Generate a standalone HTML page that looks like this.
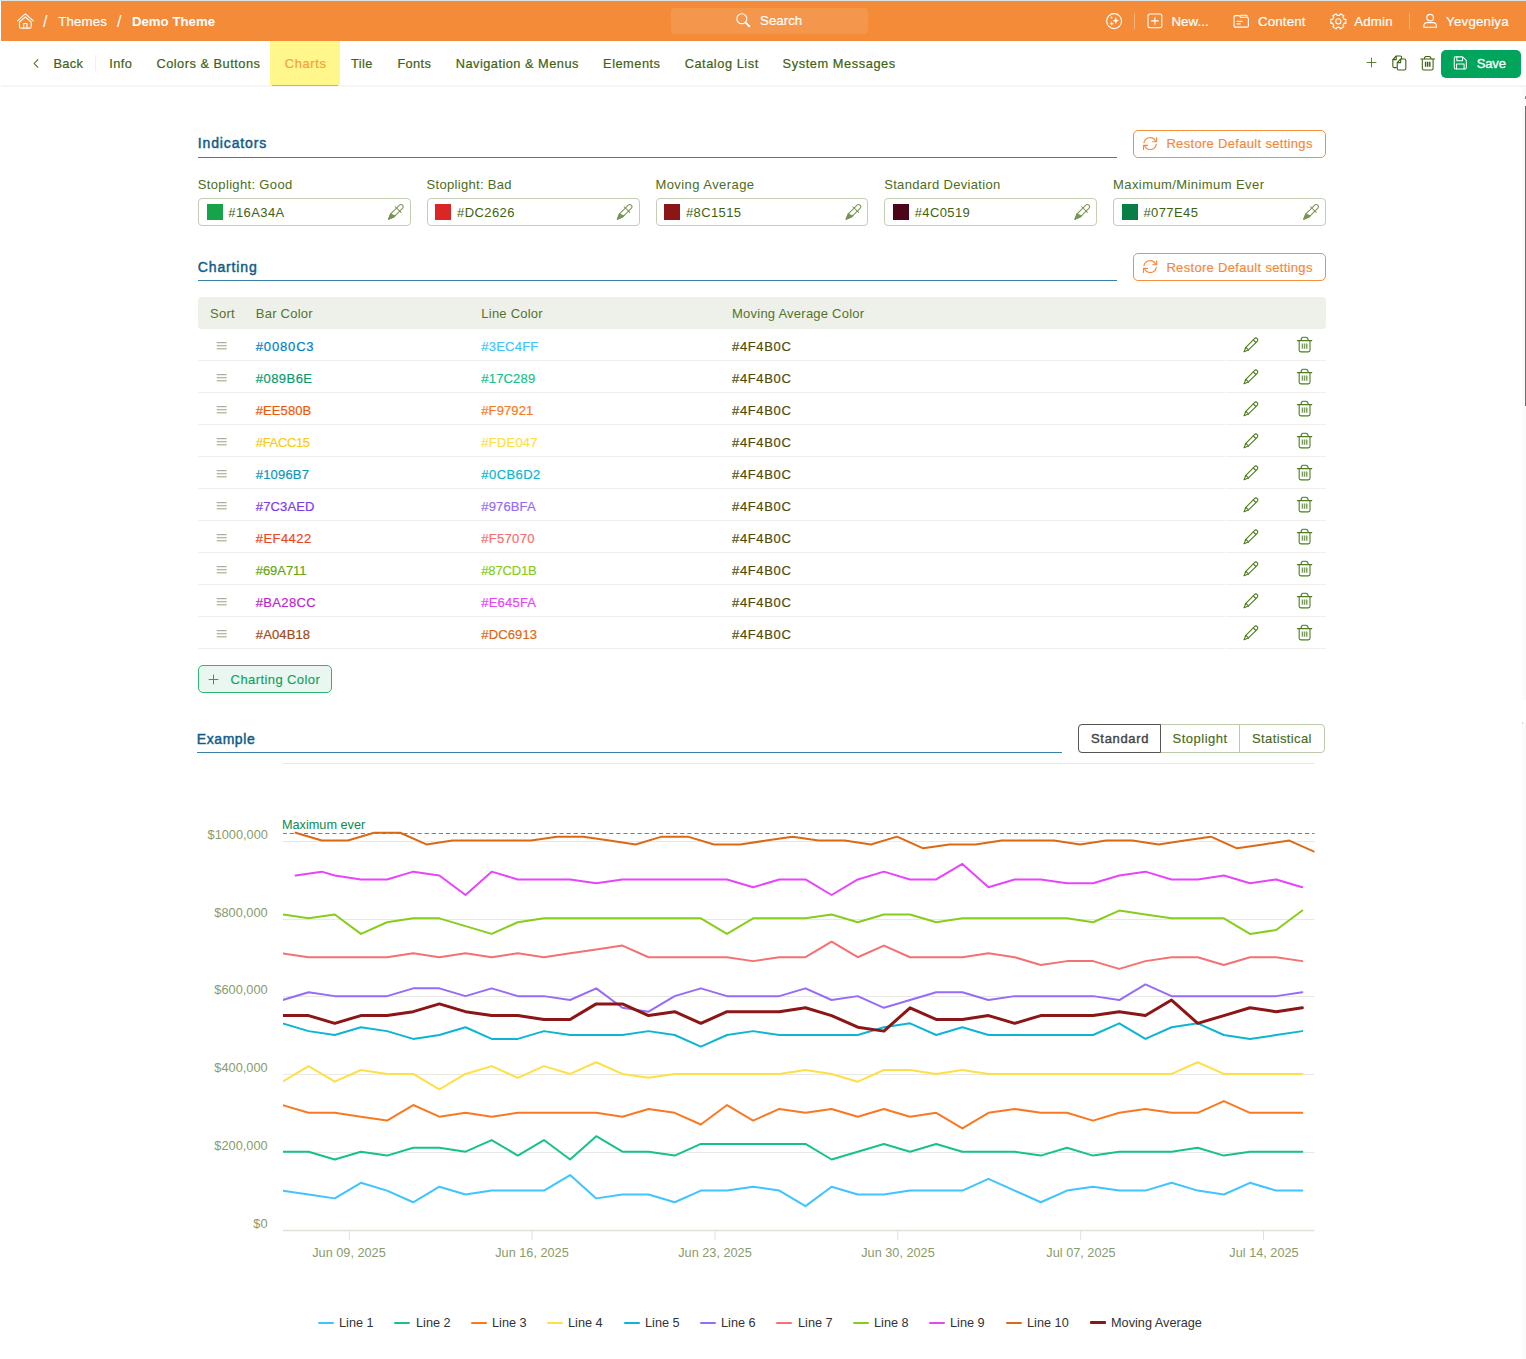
<!DOCTYPE html>
<html><head><meta charset="utf-8"><title>Demo Theme</title>
<style>
html,body{margin:0;padding:0;background:#fff;}
body{width:1526px;height:1359px;position:relative;overflow:hidden;font-family:"Liberation Sans",sans-serif;}
.t{position:absolute;white-space:nowrap;line-height:20px;}
.b{position:absolute;}
svg{overflow:visible;}
</style></head><body>
<div class="b" style="left:1.00px;top:0.00px;width:1525.00px;height:1.00px;background:#dde4e6"></div>
<div class="b" style="left:1.00px;top:1.00px;width:1525.00px;height:40.00px;background:#F38B38"></div>
<svg class="b" style="left:15.50px;top:11.90px;" width="18.70" height="18.70" viewBox="0 0 16 16" fill="none" stroke="#fff" stroke-width="0.95" stroke-linecap="round" stroke-linejoin="round"><path d="M1.2 7.6 L8 1.6 L14.8 7.6"/><path d="M3 8.6 L8 4.3 L13 8.6 V12.6 Q13 13.8 11.8 13.8 H4.2 Q3 13.8 3 12.6 Z"/><path d="M6.6 13.8 V9.8 H9.4 V13.8"/></svg>
<div class="t" style="left:42.90px;top:12.00px;font-size:16.00px;color:#fff;font-weight:400;letter-spacing:0.000px;">/</div>
<div class="t" style="left:58.30px;top:12.00px;font-size:13.30px;color:#fff;font-weight:400;letter-spacing:0.091px;-webkit-text-stroke:0.20px #fff;">Themes</div>
<div class="t" style="left:117.10px;top:12.00px;font-size:16.00px;color:#fff;font-weight:400;letter-spacing:0.000px;">/</div>
<div class="t" style="left:131.90px;top:12.00px;font-size:13.20px;color:#fff;font-weight:700;letter-spacing:0.043px;">Demo Theme</div>
<div class="b" style="left:671.00px;top:8.00px;width:196.50px;height:25.50px;background:rgba(255,255,255,0.10);border-radius:4px"></div>
<svg class="b" style="left:735.40px;top:12.40px;" width="16.00" height="16.00" viewBox="0 0 16 16" fill="none" stroke="#fff" stroke-width="1.1" stroke-linecap="round" stroke-linejoin="round"><circle cx="6.8" cy="6.8" r="5"/><path d="M10.6 10.6 L14.4 14.4" stroke-width="1.8"/></svg>
<div class="t" style="left:760.10px;top:11.00px;font-size:13.30px;color:#fff;font-weight:400;letter-spacing:-0.008px;-webkit-text-stroke:0.20px #fff;">Search</div>
<svg class="b" style="left:1106.20px;top:12.70px;" width="16.20" height="16.20" viewBox="0 0 16 16" fill="none" stroke="#fff" stroke-width="1.1" stroke-linecap="round" stroke-linejoin="round"><circle cx="8" cy="8" r="7.4"/><path d="M9.70 4.70 Q9.94 7.36 12.60 7.60 Q9.94 7.84 9.70 10.50 Q9.46 7.84 6.80 7.60 Q9.46 7.36 9.70 4.70 Z" fill="#fff" stroke="#fff" stroke-width="0.3"/><path d="M5.60 8.80 Q5.76 10.54 7.50 10.70 Q5.76 10.86 5.60 12.60 Q5.44 10.86 3.70 10.70 Q5.44 10.54 5.60 8.80 Z" fill="#fff" stroke="#fff" stroke-width="0.3"/><path d="M5.50 3.40 Q5.60 4.50 6.70 4.60 Q5.60 4.70 5.50 5.80 Q5.40 4.70 4.30 4.60 Q5.40 4.50 5.50 3.40 Z" fill="#fff" stroke="#fff" stroke-width="0.3"/></svg>
<div class="b" style="left:1134.20px;top:13.00px;width:1.00px;height:16.00px;background:rgba(255,255,255,0.35)"></div>
<svg class="b" style="left:1147.30px;top:12.80px;" width="15.80" height="15.80" viewBox="0 0 16 16" fill="none" stroke="#fff" stroke-width="1.1" stroke-linecap="round" stroke-linejoin="round"><rect x="1" y="1" width="14" height="14" rx="2"/><path d="M8 4.6 V11.4 M4.6 8 H11.4"/></svg>
<div class="t" style="left:1171.40px;top:12.00px;font-size:13.30px;color:#fff;font-weight:400;letter-spacing:0.089px;-webkit-text-stroke:0.20px #fff;">New...</div>
<svg class="b" style="left:1232.60px;top:12.80px;" width="16.40" height="16.40" viewBox="0 0 16 16" fill="none" stroke="#fff" stroke-width="1.1" stroke-linecap="round" stroke-linejoin="round"><path d="M1 4 Q1 2.6 2.4 2.6 H6 L7.6 4.2 H13.6 Q15 4.2 15 5.6 V12.4 Q15 13.8 13.6 13.8 H2.4 Q1 13.8 1 12.4 Z"/><path d="M7.4 2.2 H12.6 Q13.6 2.2 13.8 3.2"/><path d="M4 8 H9 M4 10.6 H7"/></svg>
<div class="t" style="left:1258.00px;top:12.00px;font-size:13.30px;color:#fff;font-weight:400;letter-spacing:0.137px;-webkit-text-stroke:0.20px #fff;">Content</div>
<svg class="b" style="left:1329.50px;top:12.60px;" width="16.70" height="16.70" viewBox="0 0 16 16" fill="none" stroke="#fff" stroke-width="1.1" stroke-linecap="round" stroke-linejoin="round"><circle cx="8" cy="8" r="2.5"/><path d="M15.24 6.06 L15.24 9.94 L13.64 9.72 L12.31 12.02 L13.30 13.30 L9.94 15.24 L9.33 13.75 L6.67 13.75 L6.06 15.24 L2.70 13.30 L3.69 12.02 L2.36 9.72 L0.76 9.94 L0.76 6.06 L2.36 6.28 L3.69 3.98 L2.70 2.70 L6.06 0.76 L6.67 2.25 L9.33 2.25 L9.94 0.76 L13.30 2.70 L12.31 3.98 L13.64 6.28 Z"/></svg>
<div class="t" style="left:1354.20px;top:12.00px;font-size:13.30px;color:#fff;font-weight:400;letter-spacing:0.199px;-webkit-text-stroke:0.20px #fff;">Admin</div>
<div class="b" style="left:1409.00px;top:13.00px;width:1.00px;height:16.00px;background:rgba(255,255,255,0.35)"></div>
<svg class="b" style="left:1422.70px;top:13.00px;" width="14.20" height="15.40" viewBox="0 0 16 16" fill="none" stroke="#fff" stroke-width="1.2" stroke-linecap="round" stroke-linejoin="round"><circle cx="8" cy="4.6" r="3.7"/><path d="M0.9 15.3 V14 Q0.9 10.2 4.6 10.2 H11.4 Q15.1 10.2 15.1 14 V15.3 Z"/></svg>
<div class="t" style="left:1446.10px;top:12.00px;font-size:13.30px;color:#fff;font-weight:400;letter-spacing:0.203px;-webkit-text-stroke:0.20px #fff;">Yevgeniya</div>
<div class="b" style="left:1.00px;top:85.00px;width:1525.00px;height:2.00px;background:#f6f6f4"></div>
<div class="b" style="left:270.30px;top:41.00px;width:69.50px;height:45.00px;background:#FFF68C"></div>
<div class="b" style="left:272.30px;top:84.50px;width:66.00px;height:1.50px;background:#F6A93B"></div>
<svg class="b" style="left:31.20px;top:57.70px;" width="11.00" height="11.00" viewBox="0 0 16 16" fill="none" stroke="#3f6212" stroke-width="1.5" stroke-linecap="round" stroke-linejoin="round"><path d="M10 2.5 L4.5 8 L10 13.5"/></svg>
<div class="t" style="left:53.50px;top:54.00px;font-size:12.80px;color:#3f6212;font-weight:400;letter-spacing:0.316px;-webkit-text-stroke:0.20px #3f6212;">Back</div>
<div class="b" style="left:95.30px;top:55.00px;width:1.00px;height:16.00px;background:#f1f1ec"></div>
<div class="t" style="left:109.30px;top:54.00px;font-size:12.80px;color:#3f6212;font-weight:400;letter-spacing:0.447px;-webkit-text-stroke:0.20px #3f6212;">Info</div>
<div class="t" style="left:156.40px;top:54.00px;font-size:12.80px;color:#3f6212;font-weight:400;letter-spacing:0.505px;-webkit-text-stroke:0.20px #3f6212;">Colors &amp; Buttons</div>
<div class="t" style="left:284.80px;top:54.00px;font-size:12.80px;color:#F6A13A;font-weight:400;letter-spacing:0.679px;-webkit-text-stroke:0.20px #F6A13A;">Charts</div>
<div class="t" style="left:351.00px;top:54.00px;font-size:12.80px;color:#3f6212;font-weight:400;letter-spacing:0.381px;-webkit-text-stroke:0.20px #3f6212;">Tile</div>
<div class="t" style="left:397.40px;top:54.00px;font-size:12.80px;color:#3f6212;font-weight:400;letter-spacing:0.346px;-webkit-text-stroke:0.20px #3f6212;">Fonts</div>
<div class="t" style="left:455.70px;top:54.00px;font-size:12.80px;color:#3f6212;font-weight:400;letter-spacing:0.481px;-webkit-text-stroke:0.20px #3f6212;">Navigation &amp; Menus</div>
<div class="t" style="left:603.10px;top:54.00px;font-size:12.80px;color:#3f6212;font-weight:400;letter-spacing:0.508px;-webkit-text-stroke:0.20px #3f6212;">Elements</div>
<div class="t" style="left:684.70px;top:54.00px;font-size:12.80px;color:#3f6212;font-weight:400;letter-spacing:0.538px;-webkit-text-stroke:0.20px #3f6212;">Catalog List</div>
<div class="t" style="left:782.60px;top:54.00px;font-size:12.80px;color:#3f6212;font-weight:400;letter-spacing:0.575px;-webkit-text-stroke:0.20px #3f6212;">System Messages</div>
<svg class="b" style="left:1365.50px;top:57.30px;" width="11.00" height="11.00" viewBox="0 0 16 16" fill="none" stroke="#4d7122" stroke-width="1.3" stroke-linecap="round" stroke-linejoin="round"><path d="M8 1.5 V14.5 M1.5 8 H14.5"/></svg>
<svg class="b" style="left:1391.40px;top:55.00px;" width="16.50" height="16.00" viewBox="0 0 16 16" fill="none" stroke="#3f6212" stroke-width="1.1" stroke-linecap="round" stroke-linejoin="round"><path d="M5.2 12.6 H3 Q1.6 12.6 1.6 11.2 V4.6 L5 1 H9 Q10.4 1 10.4 2.4 V3.6"/><path d="M1.8 4.6 H5 V1.4"/><path d="M6 7.6 L9.4 4 H13.2 Q14.6 4 14.6 5.4 V13.6 Q14.6 15 13.2 15 H7.4 Q6 15 6 13.6 Z"/><path d="M6.2 7.6 H9.4 V4.4"/></svg>
<svg class="b" style="left:1420.00px;top:55.00px;" width="15.40" height="16.40" viewBox="0 0 16 16" fill="none" stroke="#3f6212" stroke-width="1.1" stroke-linecap="round" stroke-linejoin="round"><path d="M0.8 3.6 H15.2"/><path d="M4.6 3.4 Q4.6 1 6.4 1 H9.6 Q11.4 1 11.4 3.4"/><path d="M2.4 3.8 V13.4 Q2.4 15 4 15 H12 Q13.6 15 13.6 13.4 V3.8"/><path d="M5.8 6.6 V11.6 M8 6.6 V11.6 M10.2 6.6 V11.6" stroke-width="1.5" stroke-linecap="butt"/></svg>
<div class="b" style="left:1441.00px;top:49.50px;width:80.00px;height:28.30px;background:#00A55B;border-radius:5px"></div>
<svg class="b" style="left:1453.00px;top:56.40px;" width="14.60" height="13.80" viewBox="0 0 16 16" fill="none" stroke="#fff" stroke-width="1.2" stroke-linecap="round" stroke-linejoin="round"><path d="M1 2.6 Q1 1 2.6 1 H10.6 L15 5 V13.4 Q15 15 13.4 15 H2.6 Q1 15 1 13.4 Z"/><path d="M4 1.2 V5.6 H10.6 V1.4"/><path d="M3.6 15 V9.4 H12.4 V15"/></svg>
<div class="t" style="left:1476.70px;top:54.00px;font-size:13.00px;color:#fff;font-weight:400;letter-spacing:-0.114px;-webkit-text-stroke:0.30px #fff;">Save</div>
<div class="t" style="left:197.80px;top:133.00px;font-size:14.00px;color:#0f5c88;font-weight:400;letter-spacing:0.855px;-webkit-text-stroke:0.45px #0f5c88;">Indicators</div>
<div class="b" style="left:197.50px;top:156.80px;width:919.50px;height:1.30px;background:#3b80a6"></div>
<div class="b" style="left:1133.00px;top:130.00px;width:193.00px;height:27.50px;border:1px solid #F5903F;border-radius:5px;box-sizing:border-box"></div>
<svg class="b" style="left:1142.00px;top:137.00px;" width="16.20" height="13.20" viewBox="0 0 16 13" fill="none" stroke="#F5873A" stroke-width="1.1" stroke-linecap="round" stroke-linejoin="round"><path d="M1.9 5.7 A6.1 6.1 0 0 1 13.5 4.3"/><path d="M14.5 0.7 V4.7 H10.5"/><path d="M14.1 7.3 A6.1 6.1 0 0 1 2.5 8.7"/><path d="M1.5 12.3 V8.3 H5.5"/></svg>
<div class="t" style="left:1166.40px;top:134.00px;font-size:13.00px;color:#F5873A;font-weight:400;letter-spacing:0.316px;-webkit-text-stroke:0.15px #F5873A;">Restore Default settings</div>
<div class="t" style="left:197.80px;top:175.00px;font-size:13.00px;color:#4d6c22;font-weight:400;letter-spacing:0.341px;">Stoplight: Good</div>
<div class="b" style="left:198.00px;top:198.00px;width:212.80px;height:28.00px;border:1px solid #c3ceb3;border-radius:4px;box-sizing:border-box;background:#fff"></div>
<div class="b" style="left:206.50px;top:204.00px;width:16.00px;height:16.00px;background:#16A34A"></div>
<div class="t" style="left:228.30px;top:203.00px;font-size:13.00px;color:#3f6212;font-weight:400;letter-spacing:0.401px;">#16A34A</div>
<svg class="b" style="left:0;top:0;color:#7a9455" width="1" height="1" fill="none" stroke="#7a9455" stroke-width="1.0" stroke-linecap="round" stroke-linejoin="round"><g transform="translate(402.50 205.20) rotate(45)"><path d="M-2.2 6.2 V2.2 A2.2 2.2 0 0 1 2.2 2.2 V6.2"/><path d="M-4 6.2 H4"/><path d="M-2.2 6.2 V14.6 L0 19.8 L2.2 14.6 V6.2"/><path d="M-2.2 14.2 Q0.4 14.4 2.2 12.2 V14.6 L0 19.8 L-2.2 14.6 Z" fill="currentColor"/></g></svg>
<div class="t" style="left:426.60px;top:175.00px;font-size:13.00px;color:#4d6c22;font-weight:400;letter-spacing:0.311px;">Stoplight: Bad</div>
<div class="b" style="left:426.80px;top:198.00px;width:212.80px;height:28.00px;border:1px solid #c3ceb3;border-radius:4px;box-sizing:border-box;background:#fff"></div>
<div class="b" style="left:435.30px;top:204.00px;width:16.00px;height:16.00px;background:#DC2626"></div>
<div class="t" style="left:457.10px;top:203.00px;font-size:13.00px;color:#3f6212;font-weight:400;letter-spacing:0.412px;">#DC2626</div>
<svg class="b" style="left:0;top:0;color:#7a9455" width="1" height="1" fill="none" stroke="#7a9455" stroke-width="1.0" stroke-linecap="round" stroke-linejoin="round"><g transform="translate(631.30 205.20) rotate(45)"><path d="M-2.2 6.2 V2.2 A2.2 2.2 0 0 1 2.2 2.2 V6.2"/><path d="M-4 6.2 H4"/><path d="M-2.2 6.2 V14.6 L0 19.8 L2.2 14.6 V6.2"/><path d="M-2.2 14.2 Q0.4 14.4 2.2 12.2 V14.6 L0 19.8 L-2.2 14.6 Z" fill="currentColor"/></g></svg>
<div class="t" style="left:655.40px;top:175.00px;font-size:13.00px;color:#4d6c22;font-weight:400;letter-spacing:0.438px;">Moving Average</div>
<div class="b" style="left:655.60px;top:198.00px;width:212.80px;height:28.00px;border:1px solid #c3ceb3;border-radius:4px;box-sizing:border-box;background:#fff"></div>
<div class="b" style="left:664.10px;top:204.00px;width:16.00px;height:16.00px;background:#8C1515"></div>
<div class="t" style="left:685.90px;top:203.00px;font-size:13.00px;color:#3f6212;font-weight:400;letter-spacing:0.396px;">#8C1515</div>
<svg class="b" style="left:0;top:0;color:#7a9455" width="1" height="1" fill="none" stroke="#7a9455" stroke-width="1.0" stroke-linecap="round" stroke-linejoin="round"><g transform="translate(860.10 205.20) rotate(45)"><path d="M-2.2 6.2 V2.2 A2.2 2.2 0 0 1 2.2 2.2 V6.2"/><path d="M-4 6.2 H4"/><path d="M-2.2 6.2 V14.6 L0 19.8 L2.2 14.6 V6.2"/><path d="M-2.2 14.2 Q0.4 14.4 2.2 12.2 V14.6 L0 19.8 L-2.2 14.6 Z" fill="currentColor"/></g></svg>
<div class="t" style="left:884.20px;top:175.00px;font-size:13.00px;color:#4d6c22;font-weight:400;letter-spacing:0.319px;">Standard Deviation</div>
<div class="b" style="left:884.40px;top:198.00px;width:212.80px;height:28.00px;border:1px solid #c3ceb3;border-radius:4px;box-sizing:border-box;background:#fff"></div>
<div class="b" style="left:892.90px;top:204.00px;width:16.00px;height:16.00px;background:#4C0519"></div>
<div class="t" style="left:914.70px;top:203.00px;font-size:13.00px;color:#3f6212;font-weight:400;letter-spacing:0.396px;">#4C0519</div>
<svg class="b" style="left:0;top:0;color:#7a9455" width="1" height="1" fill="none" stroke="#7a9455" stroke-width="1.0" stroke-linecap="round" stroke-linejoin="round"><g transform="translate(1088.90 205.20) rotate(45)"><path d="M-2.2 6.2 V2.2 A2.2 2.2 0 0 1 2.2 2.2 V6.2"/><path d="M-4 6.2 H4"/><path d="M-2.2 6.2 V14.6 L0 19.8 L2.2 14.6 V6.2"/><path d="M-2.2 14.2 Q0.4 14.4 2.2 12.2 V14.6 L0 19.8 L-2.2 14.6 Z" fill="currentColor"/></g></svg>
<div class="t" style="left:1113.00px;top:175.00px;font-size:13.00px;color:#4d6c22;font-weight:400;letter-spacing:0.420px;">Maximum/Minimum Ever</div>
<div class="b" style="left:1113.20px;top:198.00px;width:212.80px;height:28.00px;border:1px solid #c3ceb3;border-radius:4px;box-sizing:border-box;background:#fff"></div>
<div class="b" style="left:1121.70px;top:204.00px;width:16.00px;height:16.00px;background:#077E45"></div>
<div class="t" style="left:1143.50px;top:203.00px;font-size:13.00px;color:#3f6212;font-weight:400;letter-spacing:0.390px;">#077E45</div>
<svg class="b" style="left:0;top:0;color:#7a9455" width="1" height="1" fill="none" stroke="#7a9455" stroke-width="1.0" stroke-linecap="round" stroke-linejoin="round"><g transform="translate(1317.70 205.20) rotate(45)"><path d="M-2.2 6.2 V2.2 A2.2 2.2 0 0 1 2.2 2.2 V6.2"/><path d="M-4 6.2 H4"/><path d="M-2.2 6.2 V14.6 L0 19.8 L2.2 14.6 V6.2"/><path d="M-2.2 14.2 Q0.4 14.4 2.2 12.2 V14.6 L0 19.8 L-2.2 14.6 Z" fill="currentColor"/></g></svg>
<div class="t" style="left:197.80px;top:257.00px;font-size:14.00px;color:#0f5c88;font-weight:400;letter-spacing:0.854px;-webkit-text-stroke:0.45px #0f5c88;">Charting</div>
<div class="b" style="left:197.50px;top:279.90px;width:919.50px;height:1.30px;background:#3b80a6"></div>
<div class="b" style="left:1133.00px;top:253.30px;width:193.00px;height:27.50px;border:1px solid #F5903F;border-radius:5px;box-sizing:border-box"></div>
<svg class="b" style="left:1142.00px;top:260.30px;" width="16.20" height="13.20" viewBox="0 0 16 13" fill="none" stroke="#F5873A" stroke-width="1.1" stroke-linecap="round" stroke-linejoin="round"><path d="M1.9 5.7 A6.1 6.1 0 0 1 13.5 4.3"/><path d="M14.5 0.7 V4.7 H10.5"/><path d="M14.1 7.3 A6.1 6.1 0 0 1 2.5 8.7"/><path d="M1.5 12.3 V8.3 H5.5"/></svg>
<div class="t" style="left:1166.40px;top:258.00px;font-size:13.00px;color:#F5873A;font-weight:400;letter-spacing:0.316px;-webkit-text-stroke:0.15px #F5873A;">Restore Default settings</div>
<div class="b" style="left:198.00px;top:297.00px;width:1128.00px;height:31.50px;background:#eef1e9;border-radius:4px"></div>
<div class="t" style="left:210.00px;top:304.00px;font-size:13.00px;color:#55732a;font-weight:400;letter-spacing:0.278px;">Sort</div>
<div class="t" style="left:255.80px;top:304.00px;font-size:13.00px;color:#55732a;font-weight:400;letter-spacing:0.240px;">Bar Color</div>
<div class="t" style="left:481.30px;top:304.00px;font-size:13.00px;color:#55732a;font-weight:400;letter-spacing:0.230px;">Line Color</div>
<div class="t" style="left:732.00px;top:304.00px;font-size:13.00px;color:#55732a;font-weight:400;letter-spacing:0.235px;">Moving Average Color</div>
<svg class="b" style="left:216.00px;top:339.90px;" width="11.50" height="11.50" viewBox="0 0 14 15" fill="none" stroke="#8b9b73" stroke-width="1.2" stroke-linecap="round" stroke-linejoin="round"><path d="M1 3.5 H13 M1 7.5 H13 M1 11.5 H13"/></svg>
<div class="t" style="left:255.80px;top:337.00px;font-size:13.00px;color:#0080C3;font-weight:400;letter-spacing:0.836px;-webkit-text-stroke:0.20px #0080C3;">#0080C3</div>
<div class="t" style="left:481.30px;top:337.00px;font-size:13.00px;color:#3EC4FF;font-weight:400;letter-spacing:0.227px;-webkit-text-stroke:0.20px #3EC4FF;">#3EC4FF</div>
<div class="t" style="left:732.00px;top:337.00px;font-size:13.00px;color:#4F4B0C;font-weight:400;letter-spacing:0.646px;-webkit-text-stroke:0.20px #4F4B0C;">#4F4B0C</div>
<svg class="b" style="left:0;top:0;color:#4d7c1f" width="1" height="1" fill="none" stroke="#4d7c1f" stroke-width="1.1" stroke-linecap="round" stroke-linejoin="round"><g transform="translate(1257.20 338.60) rotate(45)"><path d="M-1.9 14.2 V1.9 A1.9 1.9 0 0 1 1.9 1.9 V14.2 L0 18.6 Z"/><path d="M-1.9 3.6 H1.9"/><path d="M-1.9 14.2 H1.9"/></g></svg>
<svg class="b" style="left:1296.60px;top:336.30px;" width="15.20" height="17.00" viewBox="0 0 16 17" fill="none" stroke="#4d7c1f" stroke-width="1.15" stroke-linecap="round" stroke-linejoin="round"><path d="M0.4 4.4 H15.6"/><path d="M4.2 4.2 Q4.4 0.8 6.4 0.8 H9.6 Q11.6 0.8 11.8 4.2"/><path d="M2.3 4.6 V14.6 Q2.3 16.3 4 16.3 H12 Q13.7 16.3 13.7 14.6 V4.6"/><path d="M5.7 7.4 V13 M8 7.4 V13 M10.3 7.4 V13" stroke-width="1.5" stroke-linecap="butt" opacity="0.75"/></svg>
<div class="b" style="left:198.00px;top:360.20px;width:1027.00px;height:1.00px;background:#eff0eb"></div>
<div class="b" style="left:1226.00px;top:360.20px;width:100.00px;height:1.00px;background:#eff0eb"></div>
<svg class="b" style="left:216.00px;top:371.90px;" width="11.50" height="11.50" viewBox="0 0 14 15" fill="none" stroke="#8b9b73" stroke-width="1.2" stroke-linecap="round" stroke-linejoin="round"><path d="M1 3.5 H13 M1 7.5 H13 M1 11.5 H13"/></svg>
<div class="t" style="left:255.80px;top:369.00px;font-size:13.00px;color:#089B6E;font-weight:400;letter-spacing:0.450px;-webkit-text-stroke:0.20px #089B6E;">#089B6E</div>
<div class="t" style="left:481.30px;top:369.00px;font-size:13.00px;color:#17C289;font-weight:400;letter-spacing:0.186px;-webkit-text-stroke:0.20px #17C289;">#17C289</div>
<div class="t" style="left:732.00px;top:369.00px;font-size:13.00px;color:#4F4B0C;font-weight:400;letter-spacing:0.646px;-webkit-text-stroke:0.20px #4F4B0C;">#4F4B0C</div>
<svg class="b" style="left:0;top:0;color:#4d7c1f" width="1" height="1" fill="none" stroke="#4d7c1f" stroke-width="1.1" stroke-linecap="round" stroke-linejoin="round"><g transform="translate(1257.20 370.60) rotate(45)"><path d="M-1.9 14.2 V1.9 A1.9 1.9 0 0 1 1.9 1.9 V14.2 L0 18.6 Z"/><path d="M-1.9 3.6 H1.9"/><path d="M-1.9 14.2 H1.9"/></g></svg>
<svg class="b" style="left:1296.60px;top:368.30px;" width="15.20" height="17.00" viewBox="0 0 16 17" fill="none" stroke="#4d7c1f" stroke-width="1.15" stroke-linecap="round" stroke-linejoin="round"><path d="M0.4 4.4 H15.6"/><path d="M4.2 4.2 Q4.4 0.8 6.4 0.8 H9.6 Q11.6 0.8 11.8 4.2"/><path d="M2.3 4.6 V14.6 Q2.3 16.3 4 16.3 H12 Q13.7 16.3 13.7 14.6 V4.6"/><path d="M5.7 7.4 V13 M8 7.4 V13 M10.3 7.4 V13" stroke-width="1.5" stroke-linecap="butt" opacity="0.75"/></svg>
<div class="b" style="left:198.00px;top:392.20px;width:1027.00px;height:1.00px;background:#eff0eb"></div>
<div class="b" style="left:1226.00px;top:392.20px;width:100.00px;height:1.00px;background:#eff0eb"></div>
<svg class="b" style="left:216.00px;top:403.90px;" width="11.50" height="11.50" viewBox="0 0 14 15" fill="none" stroke="#8b9b73" stroke-width="1.2" stroke-linecap="round" stroke-linejoin="round"><path d="M1 3.5 H13 M1 7.5 H13 M1 11.5 H13"/></svg>
<div class="t" style="left:255.80px;top:401.00px;font-size:13.00px;color:#EE580B;font-weight:400;letter-spacing:0.077px;-webkit-text-stroke:0.20px #EE580B;">#EE580B</div>
<div class="t" style="left:481.30px;top:401.00px;font-size:13.00px;color:#F97921;font-weight:400;letter-spacing:0.095px;-webkit-text-stroke:0.20px #F97921;">#F97921</div>
<div class="t" style="left:732.00px;top:401.00px;font-size:13.00px;color:#4F4B0C;font-weight:400;letter-spacing:0.646px;-webkit-text-stroke:0.20px #4F4B0C;">#4F4B0C</div>
<svg class="b" style="left:0;top:0;color:#4d7c1f" width="1" height="1" fill="none" stroke="#4d7c1f" stroke-width="1.1" stroke-linecap="round" stroke-linejoin="round"><g transform="translate(1257.20 402.60) rotate(45)"><path d="M-1.9 14.2 V1.9 A1.9 1.9 0 0 1 1.9 1.9 V14.2 L0 18.6 Z"/><path d="M-1.9 3.6 H1.9"/><path d="M-1.9 14.2 H1.9"/></g></svg>
<svg class="b" style="left:1296.60px;top:400.30px;" width="15.20" height="17.00" viewBox="0 0 16 17" fill="none" stroke="#4d7c1f" stroke-width="1.15" stroke-linecap="round" stroke-linejoin="round"><path d="M0.4 4.4 H15.6"/><path d="M4.2 4.2 Q4.4 0.8 6.4 0.8 H9.6 Q11.6 0.8 11.8 4.2"/><path d="M2.3 4.6 V14.6 Q2.3 16.3 4 16.3 H12 Q13.7 16.3 13.7 14.6 V4.6"/><path d="M5.7 7.4 V13 M8 7.4 V13 M10.3 7.4 V13" stroke-width="1.5" stroke-linecap="butt" opacity="0.75"/></svg>
<div class="b" style="left:198.00px;top:424.20px;width:1027.00px;height:1.00px;background:#eff0eb"></div>
<div class="b" style="left:1226.00px;top:424.20px;width:100.00px;height:1.00px;background:#eff0eb"></div>
<svg class="b" style="left:216.00px;top:435.90px;" width="11.50" height="11.50" viewBox="0 0 14 15" fill="none" stroke="#8b9b73" stroke-width="1.2" stroke-linecap="round" stroke-linejoin="round"><path d="M1 3.5 H13 M1 7.5 H13 M1 11.5 H13"/></svg>
<div class="t" style="left:255.80px;top:433.00px;font-size:13.00px;color:#FACC15;font-weight:400;letter-spacing:-0.346px;-webkit-text-stroke:0.20px #FACC15;">#FACC15</div>
<div class="t" style="left:481.30px;top:433.00px;font-size:13.00px;color:#FDE047;font-weight:400;letter-spacing:0.213px;-webkit-text-stroke:0.20px #FDE047;">#FDE047</div>
<div class="t" style="left:732.00px;top:433.00px;font-size:13.00px;color:#4F4B0C;font-weight:400;letter-spacing:0.646px;-webkit-text-stroke:0.20px #4F4B0C;">#4F4B0C</div>
<svg class="b" style="left:0;top:0;color:#4d7c1f" width="1" height="1" fill="none" stroke="#4d7c1f" stroke-width="1.1" stroke-linecap="round" stroke-linejoin="round"><g transform="translate(1257.20 434.60) rotate(45)"><path d="M-1.9 14.2 V1.9 A1.9 1.9 0 0 1 1.9 1.9 V14.2 L0 18.6 Z"/><path d="M-1.9 3.6 H1.9"/><path d="M-1.9 14.2 H1.9"/></g></svg>
<svg class="b" style="left:1296.60px;top:432.30px;" width="15.20" height="17.00" viewBox="0 0 16 17" fill="none" stroke="#4d7c1f" stroke-width="1.15" stroke-linecap="round" stroke-linejoin="round"><path d="M0.4 4.4 H15.6"/><path d="M4.2 4.2 Q4.4 0.8 6.4 0.8 H9.6 Q11.6 0.8 11.8 4.2"/><path d="M2.3 4.6 V14.6 Q2.3 16.3 4 16.3 H12 Q13.7 16.3 13.7 14.6 V4.6"/><path d="M5.7 7.4 V13 M8 7.4 V13 M10.3 7.4 V13" stroke-width="1.5" stroke-linecap="butt" opacity="0.75"/></svg>
<div class="b" style="left:198.00px;top:456.20px;width:1027.00px;height:1.00px;background:#eff0eb"></div>
<div class="b" style="left:1226.00px;top:456.20px;width:100.00px;height:1.00px;background:#eff0eb"></div>
<svg class="b" style="left:216.00px;top:467.90px;" width="11.50" height="11.50" viewBox="0 0 14 15" fill="none" stroke="#8b9b73" stroke-width="1.2" stroke-linecap="round" stroke-linejoin="round"><path d="M1 3.5 H13 M1 7.5 H13 M1 11.5 H13"/></svg>
<div class="t" style="left:255.80px;top:465.00px;font-size:13.00px;color:#1096B7;font-weight:400;letter-spacing:0.173px;-webkit-text-stroke:0.20px #1096B7;">#1096B7</div>
<div class="t" style="left:481.30px;top:465.00px;font-size:13.00px;color:#0CB6D2;font-weight:400;letter-spacing:0.438px;-webkit-text-stroke:0.20px #0CB6D2;">#0CB6D2</div>
<div class="t" style="left:732.00px;top:465.00px;font-size:13.00px;color:#4F4B0C;font-weight:400;letter-spacing:0.646px;-webkit-text-stroke:0.20px #4F4B0C;">#4F4B0C</div>
<svg class="b" style="left:0;top:0;color:#4d7c1f" width="1" height="1" fill="none" stroke="#4d7c1f" stroke-width="1.1" stroke-linecap="round" stroke-linejoin="round"><g transform="translate(1257.20 466.60) rotate(45)"><path d="M-1.9 14.2 V1.9 A1.9 1.9 0 0 1 1.9 1.9 V14.2 L0 18.6 Z"/><path d="M-1.9 3.6 H1.9"/><path d="M-1.9 14.2 H1.9"/></g></svg>
<svg class="b" style="left:1296.60px;top:464.30px;" width="15.20" height="17.00" viewBox="0 0 16 17" fill="none" stroke="#4d7c1f" stroke-width="1.15" stroke-linecap="round" stroke-linejoin="round"><path d="M0.4 4.4 H15.6"/><path d="M4.2 4.2 Q4.4 0.8 6.4 0.8 H9.6 Q11.6 0.8 11.8 4.2"/><path d="M2.3 4.6 V14.6 Q2.3 16.3 4 16.3 H12 Q13.7 16.3 13.7 14.6 V4.6"/><path d="M5.7 7.4 V13 M8 7.4 V13 M10.3 7.4 V13" stroke-width="1.5" stroke-linecap="butt" opacity="0.75"/></svg>
<div class="b" style="left:198.00px;top:488.20px;width:1027.00px;height:1.00px;background:#eff0eb"></div>
<div class="b" style="left:1226.00px;top:488.20px;width:100.00px;height:1.00px;background:#eff0eb"></div>
<svg class="b" style="left:216.00px;top:499.90px;" width="11.50" height="11.50" viewBox="0 0 14 15" fill="none" stroke="#8b9b73" stroke-width="1.2" stroke-linecap="round" stroke-linejoin="round"><path d="M1 3.5 H13 M1 7.5 H13 M1 11.5 H13"/></svg>
<div class="t" style="left:255.80px;top:497.00px;font-size:13.00px;color:#7C3AED;font-weight:400;letter-spacing:0.131px;-webkit-text-stroke:0.20px #7C3AED;">#7C3AED</div>
<div class="t" style="left:481.30px;top:497.00px;font-size:13.00px;color:#976BFA;font-weight:400;letter-spacing:0.133px;-webkit-text-stroke:0.20px #976BFA;">#976BFA</div>
<div class="t" style="left:732.00px;top:497.00px;font-size:13.00px;color:#4F4B0C;font-weight:400;letter-spacing:0.646px;-webkit-text-stroke:0.20px #4F4B0C;">#4F4B0C</div>
<svg class="b" style="left:0;top:0;color:#4d7c1f" width="1" height="1" fill="none" stroke="#4d7c1f" stroke-width="1.1" stroke-linecap="round" stroke-linejoin="round"><g transform="translate(1257.20 498.60) rotate(45)"><path d="M-1.9 14.2 V1.9 A1.9 1.9 0 0 1 1.9 1.9 V14.2 L0 18.6 Z"/><path d="M-1.9 3.6 H1.9"/><path d="M-1.9 14.2 H1.9"/></g></svg>
<svg class="b" style="left:1296.60px;top:496.30px;" width="15.20" height="17.00" viewBox="0 0 16 17" fill="none" stroke="#4d7c1f" stroke-width="1.15" stroke-linecap="round" stroke-linejoin="round"><path d="M0.4 4.4 H15.6"/><path d="M4.2 4.2 Q4.4 0.8 6.4 0.8 H9.6 Q11.6 0.8 11.8 4.2"/><path d="M2.3 4.6 V14.6 Q2.3 16.3 4 16.3 H12 Q13.7 16.3 13.7 14.6 V4.6"/><path d="M5.7 7.4 V13 M8 7.4 V13 M10.3 7.4 V13" stroke-width="1.5" stroke-linecap="butt" opacity="0.75"/></svg>
<div class="b" style="left:198.00px;top:520.20px;width:1027.00px;height:1.00px;background:#eff0eb"></div>
<div class="b" style="left:1226.00px;top:520.20px;width:100.00px;height:1.00px;background:#eff0eb"></div>
<svg class="b" style="left:216.00px;top:531.90px;" width="11.50" height="11.50" viewBox="0 0 14 15" fill="none" stroke="#8b9b73" stroke-width="1.2" stroke-linecap="round" stroke-linejoin="round"><path d="M1 3.5 H13 M1 7.5 H13 M1 11.5 H13"/></svg>
<div class="t" style="left:255.80px;top:529.00px;font-size:13.00px;color:#EF4422;font-weight:400;letter-spacing:0.439px;-webkit-text-stroke:0.20px #EF4422;">#EF4422</div>
<div class="t" style="left:481.30px;top:529.00px;font-size:13.00px;color:#F57070;font-weight:400;letter-spacing:0.295px;-webkit-text-stroke:0.20px #F57070;">#F57070</div>
<div class="t" style="left:732.00px;top:529.00px;font-size:13.00px;color:#4F4B0C;font-weight:400;letter-spacing:0.646px;-webkit-text-stroke:0.20px #4F4B0C;">#4F4B0C</div>
<svg class="b" style="left:0;top:0;color:#4d7c1f" width="1" height="1" fill="none" stroke="#4d7c1f" stroke-width="1.1" stroke-linecap="round" stroke-linejoin="round"><g transform="translate(1257.20 530.60) rotate(45)"><path d="M-1.9 14.2 V1.9 A1.9 1.9 0 0 1 1.9 1.9 V14.2 L0 18.6 Z"/><path d="M-1.9 3.6 H1.9"/><path d="M-1.9 14.2 H1.9"/></g></svg>
<svg class="b" style="left:1296.60px;top:528.30px;" width="15.20" height="17.00" viewBox="0 0 16 17" fill="none" stroke="#4d7c1f" stroke-width="1.15" stroke-linecap="round" stroke-linejoin="round"><path d="M0.4 4.4 H15.6"/><path d="M4.2 4.2 Q4.4 0.8 6.4 0.8 H9.6 Q11.6 0.8 11.8 4.2"/><path d="M2.3 4.6 V14.6 Q2.3 16.3 4 16.3 H12 Q13.7 16.3 13.7 14.6 V4.6"/><path d="M5.7 7.4 V13 M8 7.4 V13 M10.3 7.4 V13" stroke-width="1.5" stroke-linecap="butt" opacity="0.75"/></svg>
<div class="b" style="left:198.00px;top:552.20px;width:1027.00px;height:1.00px;background:#eff0eb"></div>
<div class="b" style="left:1226.00px;top:552.20px;width:100.00px;height:1.00px;background:#eff0eb"></div>
<svg class="b" style="left:216.00px;top:563.90px;" width="11.50" height="11.50" viewBox="0 0 14 15" fill="none" stroke="#8b9b73" stroke-width="1.2" stroke-linecap="round" stroke-linejoin="round"><path d="M1 3.5 H13 M1 7.5 H13 M1 11.5 H13"/></svg>
<div class="t" style="left:255.80px;top:561.00px;font-size:13.00px;color:#69A711;font-weight:400;letter-spacing:-0.066px;-webkit-text-stroke:0.20px #69A711;">#69A711</div>
<div class="t" style="left:481.30px;top:561.00px;font-size:13.00px;color:#87CD1B;font-weight:400;letter-spacing:-0.163px;-webkit-text-stroke:0.20px #87CD1B;">#87CD1B</div>
<div class="t" style="left:732.00px;top:561.00px;font-size:13.00px;color:#4F4B0C;font-weight:400;letter-spacing:0.646px;-webkit-text-stroke:0.20px #4F4B0C;">#4F4B0C</div>
<svg class="b" style="left:0;top:0;color:#4d7c1f" width="1" height="1" fill="none" stroke="#4d7c1f" stroke-width="1.1" stroke-linecap="round" stroke-linejoin="round"><g transform="translate(1257.20 562.60) rotate(45)"><path d="M-1.9 14.2 V1.9 A1.9 1.9 0 0 1 1.9 1.9 V14.2 L0 18.6 Z"/><path d="M-1.9 3.6 H1.9"/><path d="M-1.9 14.2 H1.9"/></g></svg>
<svg class="b" style="left:1296.60px;top:560.30px;" width="15.20" height="17.00" viewBox="0 0 16 17" fill="none" stroke="#4d7c1f" stroke-width="1.15" stroke-linecap="round" stroke-linejoin="round"><path d="M0.4 4.4 H15.6"/><path d="M4.2 4.2 Q4.4 0.8 6.4 0.8 H9.6 Q11.6 0.8 11.8 4.2"/><path d="M2.3 4.6 V14.6 Q2.3 16.3 4 16.3 H12 Q13.7 16.3 13.7 14.6 V4.6"/><path d="M5.7 7.4 V13 M8 7.4 V13 M10.3 7.4 V13" stroke-width="1.5" stroke-linecap="butt" opacity="0.75"/></svg>
<div class="b" style="left:198.00px;top:584.20px;width:1027.00px;height:1.00px;background:#eff0eb"></div>
<div class="b" style="left:1226.00px;top:584.20px;width:100.00px;height:1.00px;background:#eff0eb"></div>
<svg class="b" style="left:216.00px;top:595.90px;" width="11.50" height="11.50" viewBox="0 0 14 15" fill="none" stroke="#8b9b73" stroke-width="1.2" stroke-linecap="round" stroke-linejoin="round"><path d="M1 3.5 H13 M1 7.5 H13 M1 11.5 H13"/></svg>
<div class="t" style="left:255.80px;top:593.00px;font-size:13.00px;color:#BA28CC;font-weight:400;letter-spacing:0.331px;-webkit-text-stroke:0.20px #BA28CC;">#BA28CC</div>
<div class="t" style="left:481.30px;top:593.00px;font-size:13.00px;color:#E645FA;font-weight:400;letter-spacing:0.200px;-webkit-text-stroke:0.20px #E645FA;">#E645FA</div>
<div class="t" style="left:732.00px;top:593.00px;font-size:13.00px;color:#4F4B0C;font-weight:400;letter-spacing:0.646px;-webkit-text-stroke:0.20px #4F4B0C;">#4F4B0C</div>
<svg class="b" style="left:0;top:0;color:#4d7c1f" width="1" height="1" fill="none" stroke="#4d7c1f" stroke-width="1.1" stroke-linecap="round" stroke-linejoin="round"><g transform="translate(1257.20 594.60) rotate(45)"><path d="M-1.9 14.2 V1.9 A1.9 1.9 0 0 1 1.9 1.9 V14.2 L0 18.6 Z"/><path d="M-1.9 3.6 H1.9"/><path d="M-1.9 14.2 H1.9"/></g></svg>
<svg class="b" style="left:1296.60px;top:592.30px;" width="15.20" height="17.00" viewBox="0 0 16 17" fill="none" stroke="#4d7c1f" stroke-width="1.15" stroke-linecap="round" stroke-linejoin="round"><path d="M0.4 4.4 H15.6"/><path d="M4.2 4.2 Q4.4 0.8 6.4 0.8 H9.6 Q11.6 0.8 11.8 4.2"/><path d="M2.3 4.6 V14.6 Q2.3 16.3 4 16.3 H12 Q13.7 16.3 13.7 14.6 V4.6"/><path d="M5.7 7.4 V13 M8 7.4 V13 M10.3 7.4 V13" stroke-width="1.5" stroke-linecap="butt" opacity="0.75"/></svg>
<div class="b" style="left:198.00px;top:616.20px;width:1027.00px;height:1.00px;background:#eff0eb"></div>
<div class="b" style="left:1226.00px;top:616.20px;width:100.00px;height:1.00px;background:#eff0eb"></div>
<svg class="b" style="left:216.00px;top:627.90px;" width="11.50" height="11.50" viewBox="0 0 14 15" fill="none" stroke="#8b9b73" stroke-width="1.2" stroke-linecap="round" stroke-linejoin="round"><path d="M1 3.5 H13 M1 7.5 H13 M1 11.5 H13"/></svg>
<div class="t" style="left:255.80px;top:625.00px;font-size:13.00px;color:#A04B18;font-weight:400;letter-spacing:0.133px;-webkit-text-stroke:0.20px #A04B18;">#A04B18</div>
<div class="t" style="left:481.30px;top:625.00px;font-size:13.00px;color:#DC6913;font-weight:400;letter-spacing:0.144px;-webkit-text-stroke:0.20px #DC6913;">#DC6913</div>
<div class="t" style="left:732.00px;top:625.00px;font-size:13.00px;color:#4F4B0C;font-weight:400;letter-spacing:0.646px;-webkit-text-stroke:0.20px #4F4B0C;">#4F4B0C</div>
<svg class="b" style="left:0;top:0;color:#4d7c1f" width="1" height="1" fill="none" stroke="#4d7c1f" stroke-width="1.1" stroke-linecap="round" stroke-linejoin="round"><g transform="translate(1257.20 626.60) rotate(45)"><path d="M-1.9 14.2 V1.9 A1.9 1.9 0 0 1 1.9 1.9 V14.2 L0 18.6 Z"/><path d="M-1.9 3.6 H1.9"/><path d="M-1.9 14.2 H1.9"/></g></svg>
<svg class="b" style="left:1296.60px;top:624.30px;" width="15.20" height="17.00" viewBox="0 0 16 17" fill="none" stroke="#4d7c1f" stroke-width="1.15" stroke-linecap="round" stroke-linejoin="round"><path d="M0.4 4.4 H15.6"/><path d="M4.2 4.2 Q4.4 0.8 6.4 0.8 H9.6 Q11.6 0.8 11.8 4.2"/><path d="M2.3 4.6 V14.6 Q2.3 16.3 4 16.3 H12 Q13.7 16.3 13.7 14.6 V4.6"/><path d="M5.7 7.4 V13 M8 7.4 V13 M10.3 7.4 V13" stroke-width="1.5" stroke-linecap="butt" opacity="0.75"/></svg>
<div class="b" style="left:198.00px;top:648.20px;width:1027.00px;height:1.00px;background:#eff0eb"></div>
<div class="b" style="left:1226.00px;top:648.20px;width:100.00px;height:1.00px;background:#eff0eb"></div>
<div class="b" style="left:198.00px;top:665.00px;width:134.00px;height:27.80px;border:1px solid #2bb673;border-radius:5px;box-sizing:border-box;background:#eaf7f0"></div>
<svg class="b" style="left:208.40px;top:673.70px;" width="11.00" height="11.00" viewBox="0 0 16 16" fill="none" stroke="#14a05f" stroke-width="1.4" stroke-linecap="round" stroke-linejoin="round"><path d="M8 1.5 V14.5 M1.5 8 H14.5"/></svg>
<div class="t" style="left:230.60px;top:670.00px;font-size:13.00px;color:#12a05e;font-weight:400;letter-spacing:0.413px;-webkit-text-stroke:0.15px #12a05e;">Charting Color</div>
<div class="t" style="left:196.80px;top:729.00px;font-size:14.00px;color:#0f5c88;font-weight:400;letter-spacing:0.572px;-webkit-text-stroke:0.45px #0f5c88;">Example</div>
<div class="b" style="left:196.80px;top:751.80px;width:865.40px;height:1.30px;background:#3b80a6"></div>
<div class="b" style="left:1078.30px;top:724.00px;width:246.60px;height:29.00px;border:1px solid #bccaab;border-radius:4px;box-sizing:border-box;background:#fff"></div>
<div class="b" style="left:1239.00px;top:724.00px;width:1.00px;height:29.00px;background:#bccaab"></div>
<div class="b" style="left:1078.30px;top:724.00px;width:82.80px;height:29.00px;border:1px solid #555;border-radius:4px 0 0 4px;box-sizing:border-box;background:#fff"></div>
<div class="t" style="left:1091.00px;top:729.00px;font-size:13.00px;color:#444;font-weight:400;letter-spacing:0.676px;-webkit-text-stroke:0.40px #444;">Standard</div>
<div class="t" style="left:1172.60px;top:729.00px;font-size:13.00px;color:#4a6a1c;font-weight:400;letter-spacing:0.488px;-webkit-text-stroke:0.15px #4a6a1c;">Stoplight</div>
<div class="t" style="left:1252.00px;top:729.00px;font-size:13.00px;color:#4a6a1c;font-weight:400;letter-spacing:0.386px;-webkit-text-stroke:0.15px #4a6a1c;">Statistical</div>
<svg class="b" style="left:283px;top:760px;overflow:hidden" width="1031.5" height="490" viewBox="0 0 1031.5 490"><defs><clipPath id="cp"><rect x="0" y="0" width="1031.5" height="472.0"/></clipPath></defs><line x1="0" x2="1031.5" y1="470.5" y2="470.5" stroke="#e0e2da" stroke-width="1.6"/><line x1="0" x2="1031.5" y1="392.5" y2="392.5" stroke="#e8e9e3" stroke-width="1"/><line x1="0" x2="1031.5" y1="314.5" y2="314.5" stroke="#e8e9e3" stroke-width="1"/><line x1="0" x2="1031.5" y1="236.5" y2="236.5" stroke="#e8e9e3" stroke-width="1"/><line x1="0" x2="1031.5" y1="159.5" y2="159.5" stroke="#e8e9e3" stroke-width="1"/><line x1="0" x2="1031.5" y1="81.5" y2="81.5" stroke="#e8e9e3" stroke-width="1"/><line x1="0" x2="1031.5" y1="3.5" y2="3.5" stroke="#e8e9e3" stroke-width="1"/><line x1="66.3" x2="66.3" y1="470.0" y2="480.0" stroke="#e0e2da" stroke-width="1"/><line x1="249.1" x2="249.1" y1="470.0" y2="480.0" stroke="#e0e2da" stroke-width="1"/><line x1="432.0" x2="432.0" y1="470.0" y2="480.0" stroke="#e0e2da" stroke-width="1"/><line x1="614.8" x2="614.8" y1="470.0" y2="480.0" stroke="#e0e2da" stroke-width="1"/><line x1="797.7" x2="797.7" y1="470.0" y2="480.0" stroke="#e0e2da" stroke-width="1"/><line x1="980.5" x2="980.5" y1="470.0" y2="480.0" stroke="#e0e2da" stroke-width="1"/><line x1="0" x2="1031.5" y1="73.5" y2="73.5" stroke="#3a9f74" stroke-width="1" stroke-dasharray="4.2,2.9" stroke-dashoffset="0.4"/><g clip-path="url(#cp)"><polyline points="-0.55,430.60 25.60,434.49 51.75,438.38 77.90,422.83 104.05,430.60 130.20,442.27 156.35,426.71 182.50,434.49 208.65,430.60 234.80,430.60 260.95,430.60 287.10,415.05 313.25,438.38 339.40,434.49 365.55,434.49 391.70,442.27 417.85,430.60 444.00,430.60 470.15,426.71 496.30,430.60 522.45,446.16 548.60,426.71 574.75,434.49 600.90,434.49 627.05,430.60 653.20,430.60 679.35,430.60 705.50,418.94 731.65,430.60 757.80,442.27 783.95,430.60 810.10,426.71 836.25,430.60 862.40,430.60 888.55,422.83 914.70,430.60 940.85,434.49 967.00,422.83 993.15,430.60 1019.30,430.60" fill="none" stroke="#3EC4FF" stroke-width="2" stroke-linejoin="round" stroke-linecap="round"/><polyline points="-0.55,391.71 25.60,391.71 51.75,399.49 77.90,391.71 104.05,395.60 130.20,387.82 156.35,387.82 182.50,391.71 208.65,380.04 234.80,395.60 260.95,380.04 287.10,399.49 313.25,376.15 339.40,391.71 365.55,391.71 391.70,395.60 417.85,383.93 444.00,383.93 470.15,383.93 496.30,383.93 522.45,383.93 548.60,399.49 574.75,391.71 600.90,383.93 627.05,391.71 653.20,383.93 679.35,391.71 705.50,391.71 731.65,391.71 757.80,395.60 783.95,387.82 810.10,395.60 836.25,391.71 862.40,391.71 888.55,391.71 914.70,387.82 940.85,395.60 967.00,391.71 993.15,391.71 1019.30,391.71" fill="none" stroke="#17C289" stroke-width="2" stroke-linejoin="round" stroke-linecap="round"/><polyline points="-0.55,345.03 25.60,352.81 51.75,352.81 77.90,356.70 104.05,360.59 130.20,345.03 156.35,356.70 182.50,352.81 208.65,356.70 234.80,352.81 260.95,352.81 287.10,352.81 313.25,352.81 339.40,356.70 365.55,348.92 391.70,352.81 417.85,364.48 444.00,345.03 470.15,360.59 496.30,348.92 522.45,352.81 548.60,348.92 574.75,356.70 600.90,348.92 627.05,356.70 653.20,352.81 679.35,368.37 705.50,352.81 731.65,348.92 757.80,352.81 783.95,352.81 810.10,360.59 836.25,352.81 862.40,348.92 888.55,352.81 914.70,352.81 940.85,341.14 967.00,352.81 993.15,352.81 1019.30,352.81" fill="none" stroke="#F97921" stroke-width="2" stroke-linejoin="round" stroke-linecap="round"/><polyline points="-0.55,321.70 25.60,306.14 51.75,321.70 77.90,310.03 104.05,313.92 130.20,313.92 156.35,329.48 182.50,313.92 208.65,306.14 234.80,317.81 260.95,306.14 287.10,313.92 313.25,302.25 339.40,313.92 365.55,317.81 391.70,313.92 417.85,313.92 444.00,313.92 470.15,313.92 496.30,313.92 522.45,310.03 548.60,313.92 574.75,321.70 600.90,310.03 627.05,310.03 653.20,313.92 679.35,310.03 705.50,313.92 731.65,313.92 757.80,313.92 783.95,313.92 810.10,313.92 836.25,313.92 862.40,313.92 888.55,313.92 914.70,302.25 940.85,313.92 967.00,313.92 993.15,313.92 1019.30,313.92" fill="none" stroke="#FDE047" stroke-width="2" stroke-linejoin="round" stroke-linecap="round"/><polyline points="-0.55,263.35 25.60,271.13 51.75,275.02 77.90,267.24 104.05,271.13 130.20,278.91 156.35,275.02 182.50,267.24 208.65,278.91 234.80,278.91 260.95,271.13 287.10,275.02 313.25,275.02 339.40,275.02 365.55,271.13 391.70,275.02 417.85,286.69 444.00,275.02 470.15,271.13 496.30,275.02 522.45,275.02 548.60,275.02 574.75,275.02 600.90,267.24 627.05,263.35 653.20,275.02 679.35,267.24 705.50,275.02 731.65,275.02 757.80,275.02 783.95,275.02 810.10,275.02 836.25,263.35 862.40,278.91 888.55,267.24 914.70,263.35 940.85,275.02 967.00,278.91 993.15,275.02 1019.30,271.13" fill="none" stroke="#0CB6D2" stroke-width="2" stroke-linejoin="round" stroke-linecap="round"/><polyline points="-0.55,240.02 25.60,232.24 51.75,236.13 77.90,236.13 104.05,236.13 130.20,228.35 156.35,228.35 182.50,236.13 208.65,228.35 234.80,236.13 260.95,236.13 287.10,240.02 313.25,228.35 339.40,247.80 365.55,251.68 391.70,236.13 417.85,228.35 444.00,236.13 470.15,236.13 496.30,236.13 522.45,228.35 548.60,240.02 574.75,236.13 600.90,247.80 627.05,240.02 653.20,232.24 679.35,232.24 705.50,240.02 731.65,236.13 757.80,236.13 783.95,236.13 810.10,236.13 836.25,240.02 862.40,224.46 888.55,236.13 914.70,236.13 940.85,236.13 967.00,236.13 993.15,236.13 1019.30,232.24" fill="none" stroke="#976BFA" stroke-width="2" stroke-linejoin="round" stroke-linecap="round"/><polyline points="-0.55,193.34 25.60,197.23 51.75,197.23 77.90,197.23 104.05,197.23 130.20,193.34 156.35,197.23 182.50,193.34 208.65,197.23 234.80,193.34 260.95,197.23 287.10,193.34 313.25,189.45 339.40,185.56 365.55,197.23 391.70,197.23 417.85,197.23 444.00,197.23 470.15,201.12 496.30,197.23 522.45,197.23 548.60,181.67 574.75,197.23 600.90,185.56 627.05,197.23 653.20,197.23 679.35,197.23 705.50,193.34 731.65,197.23 757.80,205.01 783.95,201.12 810.10,201.12 836.25,208.90 862.40,201.12 888.55,197.23 914.70,197.23 940.85,205.01 967.00,197.23 993.15,197.23 1019.30,201.12" fill="none" stroke="#F57070" stroke-width="2" stroke-linejoin="round" stroke-linecap="round"/><polyline points="-0.55,154.45 25.60,158.34 51.75,154.45 77.90,173.89 104.05,162.23 130.20,158.34 156.35,158.34 182.50,166.11 208.65,173.89 234.80,162.23 260.95,158.34 287.10,158.34 313.25,158.34 339.40,158.34 365.55,158.34 391.70,158.34 417.85,158.34 444.00,173.89 470.15,158.34 496.30,158.34 522.45,158.34 548.60,154.45 574.75,162.23 600.90,154.45 627.05,154.45 653.20,162.23 679.35,158.34 705.50,158.34 731.65,158.34 757.80,158.34 783.95,158.34 810.10,162.23 836.25,150.56 862.40,154.45 888.55,158.34 914.70,158.34 940.85,158.34 967.00,173.89 993.15,170.00 1019.30,150.56" fill="none" stroke="#87CD1B" stroke-width="2" stroke-linejoin="round" stroke-linecap="round"/><polyline points="12.60,115.55 38.75,111.66 51.75,115.55 77.90,119.44 104.05,119.44 130.20,111.66 156.35,115.55 182.50,135.00 208.65,111.66 234.80,119.44 260.95,119.44 287.10,119.44 313.25,123.33 339.40,119.44 365.55,119.44 391.70,119.44 417.85,119.44 444.00,119.44 470.15,127.22 496.30,119.44 522.45,119.44 548.60,135.00 574.75,119.44 600.90,111.66 627.05,119.44 653.20,119.44 679.35,103.88 705.50,127.22 731.65,119.44 757.80,119.44 783.95,123.33 810.10,123.33 836.25,115.55 862.40,111.66 888.55,119.44 914.70,119.44 940.85,115.55 967.00,123.33 993.15,119.44 1019.30,127.22" fill="none" stroke="#E645FA" stroke-width="2" stroke-linejoin="round" stroke-linecap="round"/><polyline points="12.60,72.77 38.75,80.54 64.90,80.54 91.05,72.77 117.20,72.77 143.35,84.43 169.50,80.54 195.65,80.54 221.80,80.54 247.95,80.54 274.10,76.66 300.25,76.66 326.40,80.54 352.55,84.43 378.70,76.66 404.85,76.66 431.00,84.43 457.15,84.43 483.30,80.54 509.45,76.66 535.60,80.54 561.75,80.54 587.90,84.43 614.05,76.66 640.20,88.32 666.35,84.43 692.50,84.43 718.65,80.54 744.80,80.54 770.95,80.54 797.10,84.43 823.25,80.54 849.40,80.54 875.55,84.43 901.70,80.54 927.85,76.66 954.00,88.32 980.15,84.43 1006.30,80.54 1032.45,92.21" fill="none" stroke="#DC6913" stroke-width="2" stroke-linejoin="round" stroke-linecap="round"/><polyline points="-0.55,255.57 25.60,255.57 51.75,263.35 77.90,255.57 104.05,255.57 130.20,251.68 156.35,243.91 182.50,251.68 208.65,255.57 234.80,255.57 260.95,259.46 287.10,259.46 313.25,243.91 339.40,243.91 365.55,255.57 391.70,251.68 417.85,263.35 444.00,251.68 470.15,251.68 496.30,251.68 522.45,247.80 548.60,255.57 574.75,267.24 600.90,271.13 627.05,247.80 653.20,259.46 679.35,259.46 705.50,255.57 731.65,263.35 757.80,255.57 783.95,255.57 810.10,255.57 836.25,251.68 862.40,255.57 888.55,240.02 914.70,263.35 940.85,255.57 967.00,247.80 993.15,251.68 1019.30,247.80" fill="none" stroke="#8C1515" stroke-width="3" stroke-linejoin="round" stroke-linecap="round"/></g></svg>
<div class="t" style="left:282.00px;transform-origin:0 50%;top:815.00px;font-size:12.70px;color:#0a8a52;transform:scaleX(1.000)">Maximum ever</div>
<div class="t" style="right:1258.60px;transform-origin:100% 50%;top:1214.00px;font-size:13.10px;color:#8a9b6c;transform:scaleX(0.975)">$0</div>
<div class="t" style="right:1258.60px;transform-origin:100% 50%;top:1136.00px;font-size:13.10px;color:#8a9b6c;transform:scaleX(0.975)">$200,000</div>
<div class="t" style="right:1258.60px;transform-origin:100% 50%;top:1058.00px;font-size:13.10px;color:#8a9b6c;transform:scaleX(0.975)">$400,000</div>
<div class="t" style="right:1258.60px;transform-origin:100% 50%;top:980.00px;font-size:13.10px;color:#8a9b6c;transform:scaleX(0.975)">$600,000</div>
<div class="t" style="right:1258.60px;transform-origin:100% 50%;top:903.00px;font-size:13.10px;color:#8a9b6c;transform:scaleX(0.975)">$800,000</div>
<div class="t" style="right:1258.60px;transform-origin:100% 50%;top:825.00px;font-size:13.10px;color:#8a9b6c;transform:scaleX(0.975)">$1000,000</div>
<div class="t" style="left:249.30px;width:200px;text-align:center;transform-origin:50% 50%;top:1243.00px;font-size:13.60px;color:#8a9b6c;transform:scaleX(0.935)">Jun 09, 2025</div>
<div class="t" style="left:432.15px;width:200px;text-align:center;transform-origin:50% 50%;top:1243.00px;font-size:13.60px;color:#8a9b6c;transform:scaleX(0.935)">Jun 16, 2025</div>
<div class="t" style="left:615.00px;width:200px;text-align:center;transform-origin:50% 50%;top:1243.00px;font-size:13.60px;color:#8a9b6c;transform:scaleX(0.935)">Jun 23, 2025</div>
<div class="t" style="left:797.85px;width:200px;text-align:center;transform-origin:50% 50%;top:1243.00px;font-size:13.60px;color:#8a9b6c;transform:scaleX(0.935)">Jun 30, 2025</div>
<div class="t" style="left:980.70px;width:200px;text-align:center;transform-origin:50% 50%;top:1243.00px;font-size:13.60px;color:#8a9b6c;transform:scaleX(0.935)">Jul 07, 2025</div>
<div class="t" style="left:1163.55px;width:200px;text-align:center;transform-origin:50% 50%;top:1243.00px;font-size:13.60px;color:#8a9b6c;transform:scaleX(0.935)">Jul 14, 2025</div>
<div class="b" style="left:317.80px;top:1321.50px;width:16.20px;height:2.00px;background:#3EC4FF;border-radius:1px"></div>
<div class="t" style="left:339.20px;transform-origin:0 50%;top:1313.00px;font-size:13.60px;color:#333;transform:scaleX(0.935)">Line 1</div>
<div class="b" style="left:394.10px;top:1321.50px;width:16.20px;height:2.00px;background:#17C289;border-radius:1px"></div>
<div class="t" style="left:415.50px;transform-origin:0 50%;top:1313.00px;font-size:13.60px;color:#333;transform:scaleX(0.935)">Line 2</div>
<div class="b" style="left:470.80px;top:1321.50px;width:16.20px;height:2.00px;background:#F97921;border-radius:1px"></div>
<div class="t" style="left:492.20px;transform-origin:0 50%;top:1313.00px;font-size:13.60px;color:#333;transform:scaleX(0.935)">Line 3</div>
<div class="b" style="left:546.80px;top:1321.50px;width:16.20px;height:2.00px;background:#FDE047;border-radius:1px"></div>
<div class="t" style="left:568.20px;transform-origin:0 50%;top:1313.00px;font-size:13.60px;color:#333;transform:scaleX(0.935)">Line 4</div>
<div class="b" style="left:623.50px;top:1321.50px;width:16.20px;height:2.00px;background:#0CB6D2;border-radius:1px"></div>
<div class="t" style="left:644.90px;transform-origin:0 50%;top:1313.00px;font-size:13.60px;color:#333;transform:scaleX(0.935)">Line 5</div>
<div class="b" style="left:699.80px;top:1321.50px;width:16.20px;height:2.00px;background:#976BFA;border-radius:1px"></div>
<div class="t" style="left:721.20px;transform-origin:0 50%;top:1313.00px;font-size:13.60px;color:#333;transform:scaleX(0.935)">Line 6</div>
<div class="b" style="left:776.20px;top:1321.50px;width:16.20px;height:2.00px;background:#F57070;border-radius:1px"></div>
<div class="t" style="left:797.60px;transform-origin:0 50%;top:1313.00px;font-size:13.60px;color:#333;transform:scaleX(0.935)">Line 7</div>
<div class="b" style="left:853.00px;top:1321.50px;width:16.20px;height:2.00px;background:#87CD1B;border-radius:1px"></div>
<div class="t" style="left:874.40px;transform-origin:0 50%;top:1313.00px;font-size:13.60px;color:#333;transform:scaleX(0.935)">Line 8</div>
<div class="b" style="left:928.80px;top:1321.50px;width:16.20px;height:2.00px;background:#E645FA;border-radius:1px"></div>
<div class="t" style="left:950.20px;transform-origin:0 50%;top:1313.00px;font-size:13.60px;color:#333;transform:scaleX(0.935)">Line 9</div>
<div class="b" style="left:1005.70px;top:1321.50px;width:16.20px;height:2.00px;background:#DC6913;border-radius:1px"></div>
<div class="t" style="left:1027.10px;transform-origin:0 50%;top:1313.00px;font-size:13.60px;color:#333;transform:scaleX(0.935)">Line 10</div>
<div class="b" style="left:1089.60px;top:1321.00px;width:16.20px;height:3.00px;background:#8C1515;border-radius:1px"></div>
<div class="t" style="left:1111.00px;transform-origin:0 50%;top:1313.00px;font-size:13.60px;color:#333;transform:scaleX(0.935)">Moving Average</div>
<div class="b" style="left:1522.00px;top:87.00px;width:4.00px;height:613.00px;background:#fbfbfb"></div>
<div class="b" style="left:1522.00px;top:722.00px;width:4.00px;height:637.00px;background:#fbfbfb"></div>
<div class="b" style="left:1522.00px;top:722.00px;width:1.00px;height:2.00px;background:#d8d8d8"></div>
<div class="b" style="left:1525.00px;top:106.00px;width:1.00px;height:300.00px;background:#6b6b6b"></div>
<div class="b" style="left:1524.50px;top:96.00px;width:1.50px;height:3.00px;background:#777;border-radius:1px"></div>
</body></html>
